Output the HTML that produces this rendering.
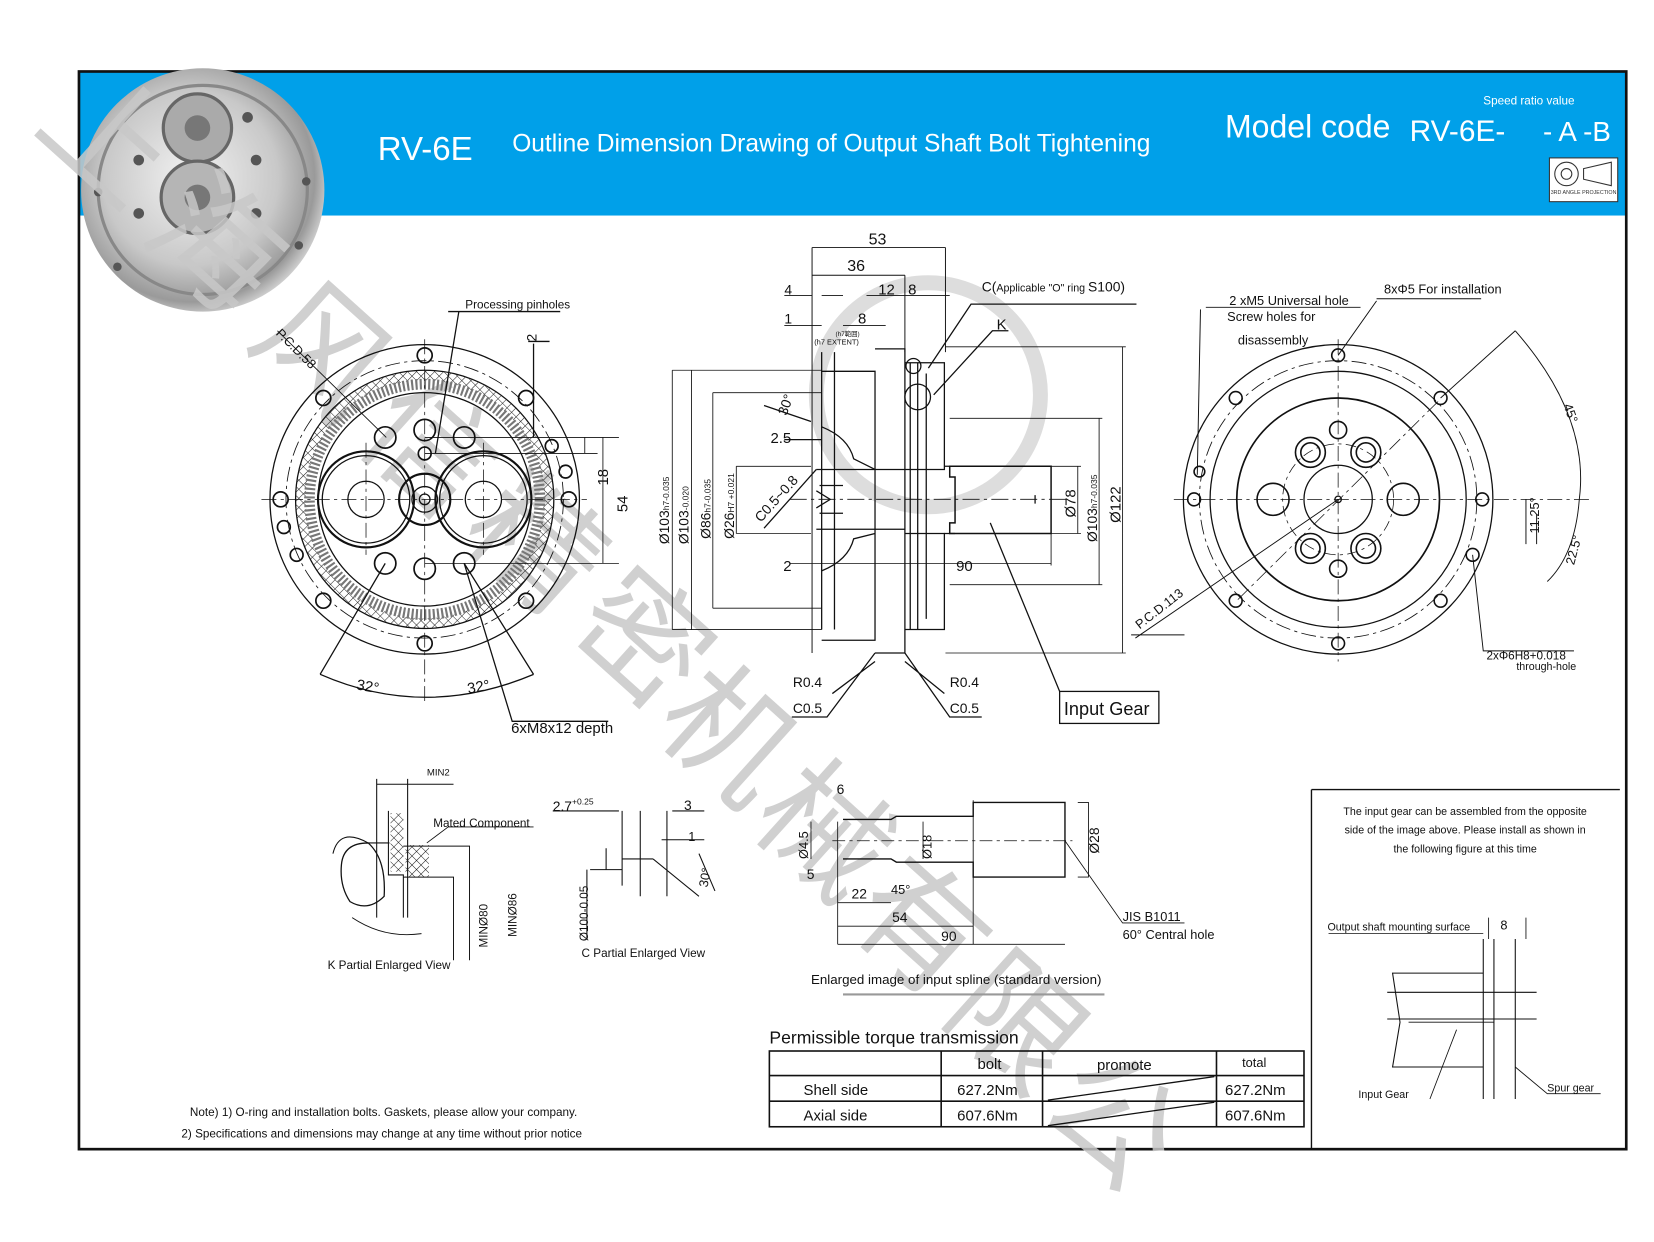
<!DOCTYPE html>
<html><head><meta charset="utf-8"><style>
html,body{margin:0;padding:0;background:#fff;overflow:hidden}
svg{display:block}
text{font-family:"Liberation Sans","Noto Sans CJK SC",sans-serif}
</style></head><body>
<svg width="1654" height="1242" viewBox="0 0 1550 1164" preserveAspectRatio="none" xmlns="http://www.w3.org/2000/svg">
<defs>
<radialGradient id="ph" cx="45%" cy="45%" r="60%"><stop offset="0" stop-color="#f2f2f2"/><stop offset=".6" stop-color="#c8c8c8"/><stop offset=".85" stop-color="#9a9a9a"/><stop offset="1" stop-color="#e8e8e8"/></radialGradient>
<pattern id="hx" width="6" height="6" patternUnits="userSpaceOnUse" patternTransform="rotate(45)"><path d="M0 0V6M0 0H6" stroke="#222" stroke-width="1"/></pattern>
</defs>
<rect x="0" y="0" width="1550" height="1164" fill="#fff"/>
<!-- frame and band -->
<rect x="74" y="67" width="1450" height="135" fill="#00a0e9"/>
<rect x="74" y="67" width="1450" height="1010" fill="none" stroke="#111" stroke-width="2.5"/>
<!-- photo -->
<circle cx="190" cy="178" r="114" fill="url(#ph)"/>
<circle cx="190" cy="178" r="98" fill="none" stroke="#888" stroke-width="3"/>
<circle cx="185" cy="120" r="32" fill="#aaa" stroke="#666" stroke-width="3"/>
<circle cx="185" cy="185" r="34" fill="#b5b5b5" stroke="#666" stroke-width="3"/>
<circle cx="185" cy="120" r="12" fill="#777"/><circle cx="185" cy="185" r="12" fill="#777"/>
<g fill="#555"><circle cx="232" cy="110" r="5"/><circle cx="240" cy="150" r="5"/><circle cx="240" cy="200" r="5"/><circle cx="130" cy="150" r="5"/><circle cx="130" cy="200" r="5"/><circle cx="287" cy="170" r="4"/><circle cx="92" cy="180" r="4"/><circle cx="280" cy="230" r="4"/><circle cx="110" cy="250" r="4"/></g>
<!-- titles -->
<g fill="#fff">
<text x="354" y="150" font-size="31">RV-6E</text>
<text x="480" y="142" font-size="23">Outline Dimension Drawing of Output Shaft Bolt Tightening</text>
<text x="1148" y="129" font-size="30">Model code</text>
<text x="1321" y="132" font-size="28">RV-6E-</text>
<text x="1446" y="132" font-size="26">- A -B</text>
<text x="1390" y="98" font-size="11">Speed ratio value</text>
</g>
<rect x="1452" y="148" width="64" height="41" fill="#fff" stroke="#333"/>
<circle cx="1468" cy="163" r="11" fill="none" stroke="#333"/><circle cx="1468" cy="163" r="5" fill="none" stroke="#333"/>
<path d="M1484 158L1510 152V174L1484 168Z" fill="none" stroke="#333"/>
<text x="1484" y="182" font-size="5" fill="#333" text-anchor="middle">3RD ANGLE PROJECTION</text>

<!-- watermark -->
<g fill="#c8c8c8" font-size="120" font-family="'Noto Sans CJK SC',sans-serif" opacity="0.85">
<text transform="translate(30,120) rotate(42)">上</text>
<text transform="translate(130,220) rotate(42)">海</text>
<text transform="translate(230,320) rotate(42)">风</text>
<text transform="translate(330,410) rotate(42)">信</text>
<text transform="translate(430,500) rotate(42)">精</text>
<text transform="translate(530,590) rotate(42)">密</text>
<text transform="translate(610,680) rotate(42)">机</text>
<text transform="translate(700,770) rotate(42)">械</text>
<text transform="translate(790,860) rotate(42)">有</text>
<text transform="translate(880,950) rotate(42)">限</text>
<text transform="translate(970,1040) rotate(42)">公</text>
</g>
<circle cx="870" cy="370" r="105" fill="none" stroke="#ddd" stroke-width="14"/>

<g stroke="#111" fill="none" stroke-width="1.2">
<!-- LEFT VIEW -->
<circle cx="398" cy="468" r="145"/>
<circle cx="398" cy="468" r="130" stroke-dasharray="14 4 3 4" stroke-width="0.8"/>
<circle cx="398" cy="468" r="121"/>
<circle cx="398" cy="468" r="116" stroke-width="9" stroke="url(#hx)"/>
<circle cx="398" cy="468" r="108" stroke-width="10" stroke="#777" stroke-dasharray="2 2"/>
<circle cx="398" cy="468" r="100"/>
<circle cx="343" cy="468" r="45" stroke-width="2"/><circle cx="343" cy="468" r="41"/><circle cx="343" cy="468" r="17"/>
<circle cx="453" cy="468" r="45" stroke-width="2"/><circle cx="453" cy="468" r="41"/><circle cx="453" cy="468" r="17"/>
<circle cx="398" cy="468" r="24" stroke-width="2"/><circle cx="398" cy="468" r="12"/><circle cx="398" cy="468" r="5"/>
<g stroke-width="1.6">
<circle cx="361" cy="410" r="10"/><circle cx="398" cy="403" r="10"/><circle cx="435" cy="410" r="10"/>
<circle cx="361" cy="528" r="10"/><circle cx="398" cy="533" r="10"/><circle cx="435" cy="528" r="10"/>
<circle cx="398" cy="425" r="6"/>
<circle cx="398" cy="333" r="7"/><circle cx="398" cy="603" r="7"/><circle cx="263" cy="468" r="7"/><circle cx="533" cy="468" r="7"/>
<circle cx="303" cy="373" r="7"/><circle cx="493" cy="373" r="7"/><circle cx="303" cy="563" r="7"/><circle cx="493" cy="563" r="7"/>
<circle cx="266" cy="494" r="6"/><circle cx="530" cy="442" r="6"/><circle cx="517" cy="418" r="6"/><circle cx="278" cy="520" r="6"/>
</g>
<path d="M245 468H550M398 318V660M343 415V520M453 415V520" stroke-dasharray="14 4 3 4" stroke-width="0.7"/>
<path d="M398 410H580M398 425H560M398 528H580M548 425V410M565 410V528" stroke-width="0.8"/>
<path d="M260 310L362 410" stroke-width="0.8"/>
<path d="M420 292H525M430 292L408 425M495 320H515M500 322V410"/>
<path d="M300 632L361 528M500 632L435 528M435 528L480 676H570"/>
<path d="M300 632Q398 675 500 632"/>

<!-- MIDDLE SECTION -->
<path d="M761 232V612M886 232V330M848 258V330M761 232H886M761 258H848" stroke-width="0.9"/>
<path d="M735 277H761M770 277H790M812 277H890M735 305H770M790 305H830" stroke-width="0.9"/>
<path d="M770 330V590M782 330V590"/>
<path d="M770 348H820V600H770M820 327H848V612H820"/>
<path d="M848 340H885V440H848M848 500H885V590H848"/>
<path d="M853 340V590M860 340V590M868 350V580"/>
<path d="M770 400Q795 410 800 430L820 440M770 535Q795 525 800 505L820 500"/>
<path d="M765 440H848M765 496H848M768 455H790M768 481H790"/>
<path d="M890 437H985V500H890V490H895V447H890Z" stroke-width="1.4"/>
<path d="M885 437H895M885 500H895"/>
<path d="M740 468H1000" stroke-dasharray="16 4 3 4" stroke-width="0.8"/>
<path d="M765 460L778 468L765 476M970 464V472"/>
<!-- left vertical dims -->
<path d="M630 347H770M630 590H770M630 347V590M648 347V590M668 368H770M668 570H770M668 368V570M690 437H760M690 500H760M690 437V500" stroke-width="0.8"/>
<!-- right vertical dims -->
<path d="M886 325H1055M886 612H1055M1052 325V612M890 392H1033M890 548H1033M1030 392V548M985 437H1013M985 500H1013M1010 437V500" stroke-width="0.8"/>
<path d="M740 528H985M985 500V530" stroke-width="0.8"/>
<path d="M716 495L765 440M716 380L760 395M735 412H770"/>
<path d="M820 612L775 672H742M848 612L890 672H920M820 620L780 650M848 620L885 650"/>
<path d="M870 345L910 285H1065M875 370L930 310H945"/>
<circle cx="860" cy="372" r="12"/><circle cx="856" cy="343" r="7"/>
<path d="M928 490L993 648"/>
<rect x="993" y="648" width="93" height="30"/>

<!-- RIGHT VIEW -->
<circle cx="1254" cy="468" r="145"/>
<circle cx="1254" cy="468" r="130" stroke-dasharray="14 4 3 4" stroke-width="0.8"/>
<circle cx="1254" cy="468" r="120"/>
<circle cx="1254" cy="468" r="95" stroke-width="1.6"/>
<circle cx="1254" cy="468" r="52" stroke-dasharray="10 4 3 4" stroke-width="0.7"/>
<circle cx="1254" cy="468" r="32"/><circle cx="1254" cy="468" r="3"/>
<g stroke-width="1.5">
<circle cx="1254" cy="333" r="6"/><circle cx="1254" cy="603" r="6"/><circle cx="1119" cy="468" r="6"/><circle cx="1389" cy="468" r="6"/>
<circle cx="1158" cy="373" r="6"/><circle cx="1350" cy="373" r="6"/><circle cx="1158" cy="563" r="6"/><circle cx="1350" cy="563" r="6"/>
<circle cx="1124" cy="442" r="5"/><circle cx="1380" cy="520" r="6"/>
<circle cx="1228" cy="424" r="14"/><circle cx="1228" cy="424" r="9"/><circle cx="1280" cy="424" r="14"/><circle cx="1280" cy="424" r="9"/>
<circle cx="1228" cy="514" r="14"/><circle cx="1228" cy="514" r="9"/><circle cx="1280" cy="514" r="14"/><circle cx="1280" cy="514" r="9"/>
<circle cx="1254" cy="403" r="8"/><circle cx="1254" cy="533" r="8"/><circle cx="1193" cy="468" r="15"/><circle cx="1315" cy="468" r="15"/>
</g>
<path d="M1100 468H1490M1254 318V620M1160 562L1350 374" stroke-dasharray="14 4 3 4" stroke-width="0.7"/>
<path d="M1064 598L1254 468M1350 373L1420 310M1060 595H1110M1130 288H1275M1125 290L1122 445M1290 280H1388M1290 282L1254 333" stroke-width="0.9"/>
<path d="M1420 310Q1490 390 1480 468Q1476 520 1450 545M1430 468V510M1380 520L1390 610H1475M1440 482V510" stroke-width="0.9"/>

<!-- K detail -->
<path d="M353 730V860M382 730V860M353 735H425M364 760V820H378V860M312 800Q318 775 345 790H365" stroke-width="1"/>
<rect x="366" y="762" width="12" height="55" fill="url(#hx)" stroke="none"/>
<rect x="380" y="792" width="22" height="30" fill="url(#hx)" stroke="none"/>
<path d="M320 810Q322 790 345 790Q362 805 360 840Q345 855 328 845Q318 830 320 810Z"/>
<path d="M378 793H440V900M378 822H425V900M330 860Q360 880 395 875" stroke-width="0.9"/>
<path d="M400 790L420 775H500" stroke-width="0.8"/>
<!-- C detail -->
<path d="M518 760H580M583 760V820M600 760V840M625 760V840M568 795V815H583M583 830V805H612M612 805L655 840M655 800L670 835M550 815V880M553 815H575M620 787H660M630 760H660" stroke-width="1"/>
<!-- spline -->
<path d="M785 770V885M785 885H998M785 868H912M785 846H835M912 750V885" stroke-width="0.8"/>
<path d="M790 768H835L840 765H912V752H998V822H912V808H840L835 805H790" stroke-width="1.3"/>
<path d="M780 788H1005" stroke-dasharray="12 4 3 4" stroke-width="0.7"/>
<path d="M998 788L1052 865H1110M760 770V805M865 770V805M1010 752H1020V822H1010" stroke-width="0.8"/>
<path d="M790 932H1035" stroke="#999" stroke-width="2"/>

<!-- table -->
<rect x="721" y="985" width="501" height="71" stroke-width="1.5"/>
<path d="M721 1008H1222M721 1032H1222M882 985V1056M977 985V1056M1140 985V1056" stroke-width="1.5"/>
<path d="M982 1031L1138 1009M982 1055L1138 1033"/>
<!-- right note box -->
<path d="M1229 740V1077M1229 740H1518" stroke-width="1.3"/>
<path d="M1305 912H1390V1000H1305L1312 958Z M1390 880V1030M1400 880V1030M1420 880V1030M1300 955H1440M1300 930H1440" stroke-width="1"/>
<path d="M1320 958L1400 958M1395 860V880M1430 860V880M1340 1030L1365 965M1420 1000L1450 1025H1500M1245 875H1390" stroke-width="0.8"/>
</g>

<!-- TEXT -->
<g fill="#111" font-size="12">
<text x="436" y="289" font-size="11">Processing pinholes</text>
<text transform="translate(258,313) rotate(45)" font-size="12">P.C.D.58</text>
<text transform="translate(503,320) rotate(-90)" font-size="13">2</text>
<text transform="translate(570,455) rotate(-90)" font-size="14">18</text>
<text transform="translate(588,480) rotate(-90)" font-size="14">54</text>
<text x="334" y="648" font-size="14" transform="rotate(10 345 644)">32°</text>
<text x="438" y="648" font-size="14" transform="rotate(-10 450 644)">32°</text>
<text x="479" y="687" font-size="14">6xM8x12 depth</text>

<text x="814" y="229" font-size="15">53</text>
<text x="794" y="254" font-size="15">36</text>
<text x="735" y="276" font-size="13">4</text>
<text x="823" y="276" font-size="14">12</text>
<text x="851" y="276" font-size="14">8</text>
<text x="735" y="303" font-size="13">1</text>
<text x="804" y="303" font-size="14">8</text>
<text x="783" y="315" font-size="6">(h7範囲)</text>
<text x="763" y="323" font-size="7">(h7 EXTENT)</text>
<text x="920" y="273" font-size="13">C(<tspan font-size="10">Applicable "O" ring </tspan>S100)</text>
<text x="934" y="309" font-size="14">K</text>
<text transform="translate(737,390) rotate(-70)" font-size="13">30°</text>
<text x="722" y="415" font-size="14">2.5</text>
<text transform="translate(713,490) rotate(-48)" font-size="13">C0.5~0.8</text>
<text x="734" y="535" font-size="14">2</text>
<text x="896" y="535" font-size="14">90</text>
<text transform="translate(627,510) rotate(-90)" font-size="13">Ø103<tspan font-size="8">h7-0.035</tspan></text>
<text transform="translate(645,510) rotate(-90)" font-size="13">Ø103<tspan font-size="8">-0.020</tspan></text>
<text transform="translate(666,505) rotate(-90)" font-size="13">Ø86<tspan font-size="8">h7-0.035</tspan></text>
<text transform="translate(688,505) rotate(-90)" font-size="13">Ø26<tspan font-size="8">H7 +0.021</tspan></text>
<text transform="translate(1008,485) rotate(-90)" font-size="14">Ø78</text>
<text transform="translate(1028,508) rotate(-90)" font-size="13">Ø103<tspan font-size="8">h7-0.035</tspan></text>
<text transform="translate(1050,490) rotate(-90)" font-size="14">Ø122</text>
<text x="743" y="644" font-size="13">R0.4</text>
<text x="743" y="668" font-size="13">C0.5</text>
<text x="890" y="644" font-size="13">R0.4</text>
<text x="890" y="668" font-size="13">C0.5</text>
<text x="997" y="670" font-size="17">Input Gear</text>

<text x="1152" y="286" font-size="12">2 xM5 Universal hole</text>
<text x="1150" y="301" font-size="12">Screw holes for</text>
<text x="1160" y="323" font-size="12">disassembly</text>
<text x="1297" y="275" font-size="12">8xΦ5 For installation</text>
<text transform="translate(1068,590) rotate(-38)" font-size="12">P.C.D.113</text>
<text transform="translate(1465,380) rotate(70)" font-size="12">45°</text>
<text transform="translate(1442,500) rotate(-90)" font-size="12">11.25°</text>
<text transform="translate(1475,530) rotate(-75)" font-size="12">22.5°</text>
<text x="1393" y="618" font-size="11">2xΦ6H8+0.018</text>
<text x="1421" y="628" font-size="10">through-hole</text>

<text x="400" y="727" font-size="9">MIN2</text>
<text x="406" y="775" font-size="11">Mated Component</text>
<text transform="translate(457,888) rotate(-90)" font-size="11">MINØ80</text>
<text transform="translate(484,878) rotate(-90)" font-size="11">MINØ86</text>
<text x="307" y="908" font-size="11">K Partial Enlarged View</text>
<text x="518" y="760" font-size="13">2.7<tspan font-size="8" dy="-6">+0.25</tspan></text>
<text x="641" y="759" font-size="13">3</text>
<text x="645" y="788" font-size="12">1</text>
<text transform="translate(663,832) rotate(-80)" font-size="12">30°</text>
<text transform="translate(551,882) rotate(-90)" font-size="11">Ø100-0.05</text>
<text x="545" y="897" font-size="11">C Partial Enlarged View</text>
<text x="784" y="744" font-size="13">6</text>
<text transform="translate(757,805) rotate(-90)" font-size="12">Ø4.5</text>
<text x="756" y="824" font-size="13">5</text>
<text transform="translate(873,805) rotate(-90)" font-size="12">Ø18</text>
<text transform="translate(1030,800) rotate(-90)" font-size="13">Ø28</text>
<text x="798" y="842" font-size="13">22</text>
<text x="835" y="838" font-size="12">45°</text>
<text x="836" y="864" font-size="13">54</text>
<text x="882" y="882" font-size="13">90</text>
<text x="1052" y="863" font-size="12">JIS B1011</text>
<text x="1052" y="880" font-size="12">60° Central hole</text>
<text x="760" y="922" font-size="12.5">Enlarged image of input spline (standard version)</text>

<text x="721" y="978" font-size="16.5">Permissible torque transmission</text>
<text x="916" y="1002" font-size="14">bolt</text>
<text x="1028" y="1003" font-size="14">promote</text>
<text x="1164" y="1000" font-size="12">total</text>
<text x="753" y="1026" font-size="14">Shell side</text>
<text x="897" y="1026" font-size="14">627.2Nm</text>
<text x="1148" y="1026" font-size="14">627.2Nm</text>
<text x="753" y="1050" font-size="14">Axial side</text>
<text x="897" y="1050" font-size="14">607.6Nm</text>
<text x="1148" y="1050" font-size="14">607.6Nm</text>

<text x="178" y="1046" font-size="11">Note) 1) O-ring and installation bolts. Gaskets, please allow your company.</text>
<text x="170" y="1066" font-size="11">2) Specifications and dimensions may change at any time without prior notice</text>

<text x="1373" y="764" font-size="10" text-anchor="middle">The input gear can be assembled from the opposite</text>
<text x="1373" y="781" font-size="10" text-anchor="middle">side of the image above. Please install as shown in</text>
<text x="1373" y="799" font-size="10" text-anchor="middle">the following figure at this time</text>
<text x="1244" y="872" font-size="10">Output shaft mounting surface</text>
<text x="1406" y="871" font-size="12">8</text>
<text x="1273" y="1029" font-size="10">Input Gear</text>
<text x="1450" y="1023" font-size="10">Spur gear</text>
</g>
</svg>
</body></html>
